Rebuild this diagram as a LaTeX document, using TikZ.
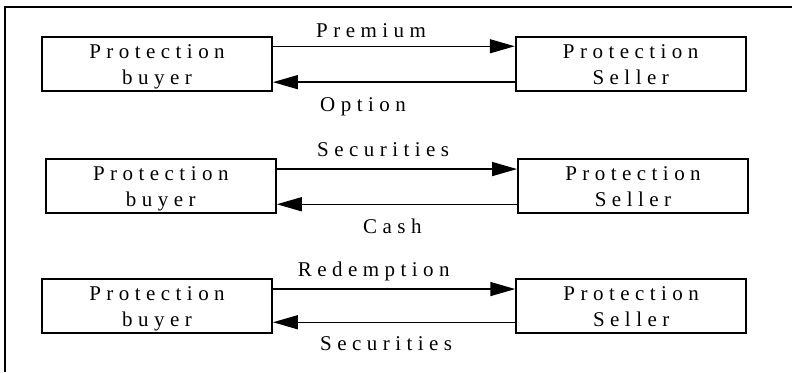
\documentclass[tikz,border=0pt]{standalone}
\usepackage{fontspec}
\setmainfont{Liberation Serif}[LetterSpace=26]
\usetikzlibrary{arrows.meta}
\begin{document}
\begin{tikzpicture}[x=1pt,y=-1pt,
  party/.style={draw,line width=1.9pt,rectangle,inner sep=0pt,minimum width=230pt,minimum height=54pt,align=center,text height=44pt,text depth=3.8pt,font=\fontsize{21}{26}\selectfont},
  flow/.style={line width=1.5pt,-{Triangle[length=25pt,width=14pt]}},
  lbl/.style={anchor=base west,inner sep=0pt,font=\fontsize{21}{26}\selectfont}]
\useasboundingbox (0,0) rectangle (792,372);
\draw[line width=1.7pt] (5,372) coordinate (fbl) -- (5,7) coordinate (ftl) -- (792,7) coordinate (ftr);
% Row 1
\node[party] (b1) at (157,64.2) {Protection\\buyer};
\node[party] (s1) at (630.7,64.2) {Protection\\Seller};
\draw[flow] ([yshift=-10pt]b1.north east) -- ([yshift=-10pt]b1.north east -| s1.west);
\draw[flow] ([yshift=10pt]s1.south west) -- ([yshift=10pt]s1.south west -| b1.east);
\node[lbl] (l1a) at (316,37.7) {Premium};
\node[lbl] (l1b) at (320,111.7) {Option};
% Row 2
\node[party] (b2) at (160.8,186.3) {Protection\\buyer};
\node[party] (s2) at (633,186.3) {Protection\\Seller};
\draw[flow] ([yshift=-10.7pt]b2.north east) -- ([yshift=-10.7pt]b2.north east -| s2.west);
\draw[flow] ([yshift=10pt]s2.south west) -- ([yshift=10pt]s2.south west -| b2.east);
\node[lbl] (l2a) at (317,156) {Securities};
\node[lbl] (l2b) at (363,233.5) {Cash};
% Row 3
\node[party] (b3) at (157,306.3) {Protection\\buyer};
\node[party] (s3) at (631.2,306.3) {Protection\\Seller};
\draw[flow] ([yshift=-10.7pt]b3.north east) -- ([yshift=-10.7pt]b3.north east -| s3.west);
\draw[flow] ([yshift=12pt]s3.south west) -- ([yshift=12pt]s3.south west -| b3.east);
\node[lbl] (l3a) at (297.7,276) {Redemption};
\node[lbl] (l3b) at (320,350.7) {Securities};
\end{tikzpicture}
\end{document}
